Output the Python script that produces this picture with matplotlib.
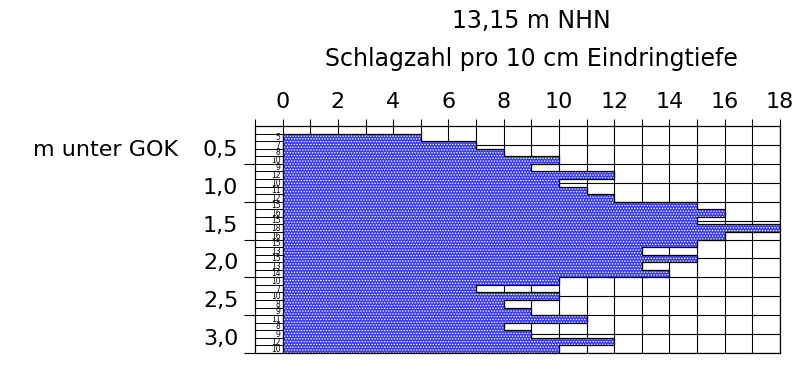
import numpy as np
import matplotlib
matplotlib.use('Agg')
import matplotlib.pyplot as plt

plt.rcParams['font.family'] = ['DejaVu Sans']
plt.rcParams['hatch.color'] = 'white'
plt.rcParams['hatch.linewidth'] = 0.6

# Schlagzahl pro 10 cm, ab 0,1 m unter GOK
start_depth = 0.1
blows = [5, 7, 8, 10, 9, 12, 10, 11, 12, 15, 16, 15, 18, 16, 15,
         13, 15, 13, 14, 10, 7, 10, 8, 9, 11, 8, 9, 12, 10]
depth_ticks = [0.5, 1.0, 1.5, 2.0, 2.5, 3.0]
depth_labels = ['0,5', '1,0', '1,5', '2,0', '2,5', '3,0']
x_ticks = [0, 2, 4, 6, 8, 10, 12, 14, 16, 18]
title1 = '13,15 m NHN'
title2 = 'Schlagzahl pro 10 cm Eindringtiefe'
ylabel = 'm unter GOK'

fig = plt.figure(figsize=(8.01, 3.70), dpi=100)
ax = fig.add_axes([255/801, 1-353/370, 525/801, 227/370])

n = len(blows)
edges = start_depth + 0.1*np.arange(n+1)
xs = np.append(blows, blows[-1])
max_depth = edges[-1]

# grid
ax.vlines(np.arange(0, 19), 0, max_depth, color='black', lw=0.8, zorder=1)
ax.hlines(np.arange(0.25, max_depth, 0.25), 0, 18, color='black', lw=0.8, zorder=1)

# bars
ax.fill_betweenx(edges, 0, xs, step='post', facecolor='#3c3cf2', hatch='......',
                 edgecolor='none', lw=0, zorder=2)
ax.fill_betweenx(edges, 0, xs, step='post', facecolor='none',
                 edgecolor='black', lw=0.9, zorder=3)

# Spalte mit Schlagzahlen
ax.hlines(edges, -1, 0, color='black', lw=0.7, zorder=1)
for d, b in zip(edges[:-1], blows):
    ax.text(-0.08, d + 0.055, str(b), ha='right', va='center', fontsize=5.5)

ax.set_xlim(-1, 18)
ax.set_ylim(max_depth, 0)

ax.xaxis.tick_top()
ax.set_xticks(x_ticks)
ax.set_xticklabels([str(t) for t in x_ticks], fontsize=16)
ax.set_xticks(np.arange(-1, 19), minor=True)
ax.tick_params(axis='x', which='both', length=5, width=0.8, pad=5, top=True, bottom=False)

ax.set_yticks(depth_ticks)
ax.set_yticklabels([])
ax.tick_params(axis='y', which='major', length=8, width=0.8)
for d, lab in zip(depth_ticks, depth_labels):
    ax.annotate(lab, xy=(-1, d), xycoords='data', xytext=(-12, 10),
                textcoords='offset points', ha='right', va='center', fontsize=16)
ax.annotate(ylabel, xy=(-1, depth_ticks[0]), xycoords='data', xytext=(-55, 10),
            textcoords='offset points', ha='right', va='center', fontsize=16)

for s in ax.spines.values():
    s.set_linewidth(0.9)

fig.text(531/801, 1-21/370, title1, ha='center', va='center', fontsize=17)
fig.text(531/801, 1-59/370, title2, ha='center', va='center', fontsize=17)

fig.savefig('out.png', dpi=100)
